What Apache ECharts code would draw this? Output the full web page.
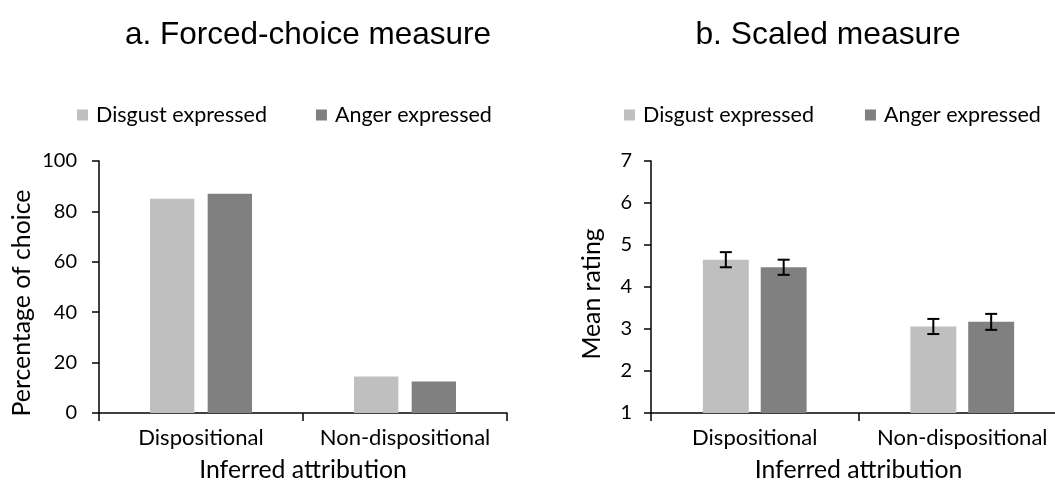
<!DOCTYPE html>
<html>
<head>
<meta charset="utf-8">
<script src="https://cdn.jsdelivr.net/npm/echarts@6/dist/echarts.min.js"></script>
<style>
html,body{margin:0;padding:0;background:#fff;}
#c{width:1055px;height:484px;}
</style>
</head>
<body>
<div id="c"></div>
<script>
// ---- data ----
const categories = ['Dispositional', 'Non-dispositional'];
const seriesNames = ['Disgust expressed', 'Anger expressed'];
const forcedDisgust = [85, 14.5];
const forcedAnger = [87, 12.5];
const scaledDisgust = [4.65, 3.06];
const scaledAnger = [4.47, 3.17];
const scaledDisgustErr = [0.18, 0.18];
const scaledAngerErr = [0.18, 0.19];
const titles = ['a. Forced-choice measure', 'b. Scaled measure'];
const yNames = ['Percentage of choice', 'Mean rating'];
const xName = 'Inferred attribution';

const LIGHT = '#BFBFBF', DARK = '#808080';
const FONT = 'Lato';
const CAT_GAP = 0.5, RIGHT_BAR_GAP = 0.26;

function errData(vals, errs) {
  return vals.map((v, i) => [i, v, errs[i]]);
}
function makeErrRender(sign, barGap) {
  return function (params, api) {
    const ci = api.value(0), v = api.value(1), e = api.value(2);
    const band = api.size([1, 0])[0];
    const w = band * (1 - CAT_GAP) / (2 + barGap);
    const off = sign * (w + barGap * w) / 2;
    const top = api.coord([ci, v + e]);
    const bot = api.coord([ci, v - e]);
    const x = top[0] + off;
    const half = 6;
    const style = { stroke: '#000', lineWidth: 2 };
    return {
      type: 'group',
      children: [
        { type: 'line', shape: { x1: x, y1: top[1], x2: x, y2: bot[1] }, style },
        { type: 'line', shape: { x1: x - half, y1: top[1], x2: x + half, y2: top[1] }, style },
        { type: 'line', shape: { x1: x - half, y1: bot[1], x2: x + half, y2: bot[1] }, style }
      ]
    };
  };
}

const axisLine = { show: true, lineStyle: { color: '#000', width: 1.5 } };
const chart = echarts.init(document.getElementById('c'), null, { renderer: 'canvas' });

function xAxis(gridIndex) {
  return {
    type: 'category', gridIndex, data: categories,
    axisLine, axisTick: { show: true, length: 8, lineStyle: { color: '#000', width: 1.5 } },
    axisLabel: { color: '#000', fontFamily: FONT, fontSize: 22, margin: 14, interval: 0 },
    name: xName, nameLocation: 'middle', nameGap: 45,
    nameTextStyle: { color: '#000', fontFamily: FONT, fontSize: 24.8 }
  };
}

const option = {
  backgroundColor: '#fff',
  animation: false,
  title: [
    { text: titles[0], left: 303, top: 14, textAlign: 'center',
      textStyle: { fontFamily: 'Liberation Sans', fontWeight: 'normal', fontSize: 31.5, color: '#000' } },
    { text: titles[1], left: 823, top: 14, textAlign: 'center',
      textStyle: { fontFamily: 'Liberation Sans', fontWeight: 'normal', fontSize: 31.8, color: '#000' } }
  ],
  legend: [
    { left: 72, top: 99, width: 480, itemWidth: 11, itemHeight: 11, itemGap: 49, icon: 'rect',
      data: seriesNames,
      textStyle: { fontFamily: FONT, fontSize: 21.5, color: '#000', padding: [0, 0, 0, 3] } },
    { left: 619, top: 99, width: 480, itemWidth: 11, itemHeight: 11, itemGap: 51, icon: 'rect',
      data: seriesNames,
      textStyle: { fontFamily: FONT, fontSize: 21.5, color: '#000', padding: [0, 0, 0, 3] } }
  ],
  grid: [
    { left: 99, top: 161, width: 408, height: 252, outerBoundsMode: 'none', containLabel: false },
    { left: 651, top: 161, width: 415, height: 252, outerBoundsMode: 'none', containLabel: false }
  ],
  xAxis: [xAxis(0), xAxis(1)],
  yAxis: [
    { type: 'value', gridIndex: 0, min: 0, max: 100, interval: 20,
      axisLine, axisTick: { show: true, length: 7, lineStyle: { color: '#000', width: 1.5 } },
      splitLine: { show: false },
      axisLabel: { color: '#000', fontFamily: FONT, fontSize: 20, margin: 22 },
      name: yNames[0], nameLocation: 'middle', nameGap: 64,
      nameTextStyle: { color: '#000', fontFamily: FONT, fontSize: 24.8, padding: [0, 32, 0, 0] } },
    { type: 'value', gridIndex: 1, min: 1, max: 7, interval: 1,
      axisLine, axisTick: { show: true, length: 7, lineStyle: { color: '#000', width: 1.5 } },
      splitLine: { show: false },
      axisLabel: { color: '#000', fontFamily: FONT, fontSize: 20, margin: 19 },
      name: yNames[1], nameLocation: 'middle', nameGap: 46,
      nameTextStyle: { color: '#000', fontFamily: FONT, fontSize: 24.8, padding: [0, 14, 0, 0] } }
  ],
  series: [
    { name: seriesNames[0], type: 'bar', xAxisIndex: 0, yAxisIndex: 0, data: forcedDisgust,
      itemStyle: { color: LIGHT }, barGap: '30%', barCategoryGap: '50%' },
    { name: seriesNames[1], type: 'bar', xAxisIndex: 0, yAxisIndex: 0, data: forcedAnger,
      itemStyle: { color: DARK }, barGap: '30%', barCategoryGap: '50%' },
    { name: seriesNames[0], type: 'bar', xAxisIndex: 1, yAxisIndex: 1, data: scaledDisgust,
      itemStyle: { color: LIGHT }, barGap: '26%', barCategoryGap: '50%' },
    { name: seriesNames[1], type: 'bar', xAxisIndex: 1, yAxisIndex: 1, data: scaledAnger,
      itemStyle: { color: DARK }, barGap: '26%', barCategoryGap: '50%' },
    { name: 'errDisgust', type: 'custom', xAxisIndex: 1, yAxisIndex: 1,
      data: errData(scaledDisgust, scaledDisgustErr), encode: { x: 0, y: 1 },
      renderItem: makeErrRender(-1, RIGHT_BAR_GAP), z: 10 },
    { name: 'errAnger', type: 'custom', xAxisIndex: 1, yAxisIndex: 1,
      data: errData(scaledAnger, scaledAngerErr), encode: { x: 0, y: 1 },
      renderItem: makeErrRender(1, RIGHT_BAR_GAP), z: 10 }
  ]
};
chart.setOption(option);
</script>
</body>
</html>
